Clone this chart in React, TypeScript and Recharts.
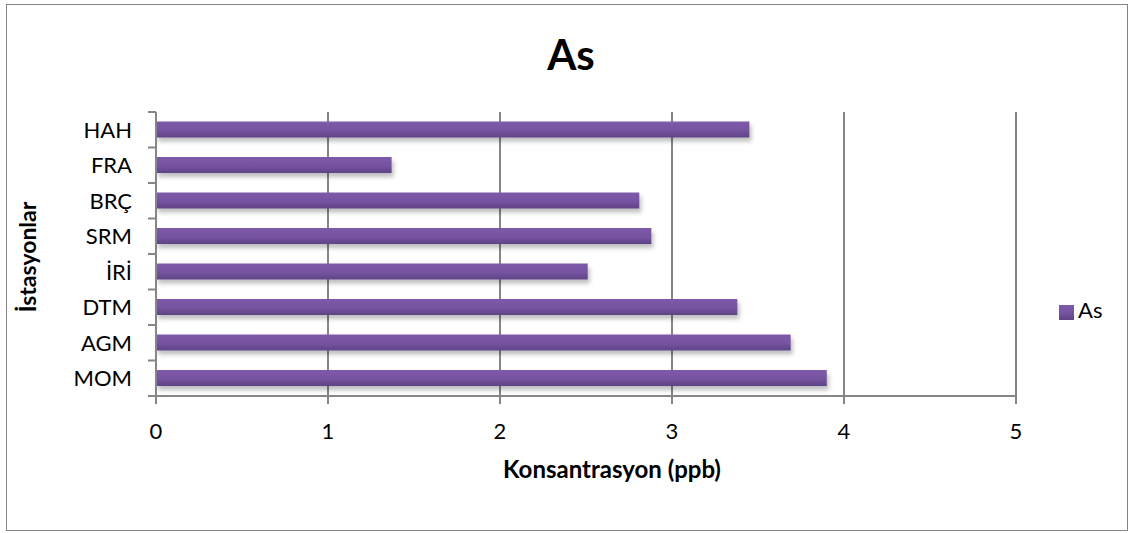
import { Bar, BarChart, CartesianGrid, Legend, XAxis, YAxis } from 'recharts';

const stations = ['HAH', 'FRA', 'BRÇ', 'SRM', 'İRİ', 'DTM', 'AGM', 'MOM'];
const asValues = [3.45, 1.37, 2.81, 2.88, 2.51, 3.38, 3.69, 3.9];
const xTicks = [0, 1, 2, 3, 4, 5];

const data = stations.map((name, i) => ({ name, As: asValues[i] }));

const FONT = 'Lato, "Open Sans", sans-serif';
const AXIS = '#868686';

const YTick = (props: any) => {
  const { x, y, payload, index } = props;
  const band = 284 / stations.length;
  return (
    <g>
      <line x1={x + 0} x2={x + 8} y1={y - band / 2} y2={y - band / 2} stroke={AXIS} strokeWidth={2} />
      {index === stations.length - 1 && (
        <line x1={x} x2={x + 8} y1={y + band / 2} y2={y + band / 2} stroke={AXIS} strokeWidth={2} />
      )}
      <text x={x - 16} y={y} dy={8} textAnchor='end' fontSize={22} fill='#000' fontFamily={FONT}>
        {payload.value}
      </text>
    </g>
  );
};

export default function App() {
  return (
    <div style={{ position: 'absolute', left: 0, top: 0, width: 1131, height: 533, background: '#fff' }}>
      <div
        style={{
          position: 'absolute',
          left: 6,
          top: 4,
          width: 1120,
          height: 525,
          border: '1px solid #868686',
        }}
      />
      <div
        style={{
          position: 'absolute',
          left: 0,
          width: 1142,
          top: 29,
          textAlign: 'center',
          fontFamily: FONT,
          fontWeight: 'bold',
          fontSize: 42,
        }}
      >
        As
      </div>
      <div
        style={{
          position: 'absolute',
          left: 27,
          top: 257,
          transform: 'translate(-50%, -50%) rotate(-90deg)',
          fontFamily: FONT,
          fontWeight: 'bold',
          fontSize: 23,
          whiteSpace: 'nowrap',
        }}
      >
        İstasyonlar
      </div>
      <div
        style={{
          position: 'absolute',
          left: 612,
          top: 468,
          transform: 'translate(-50%, -50%)',
          fontFamily: FONT,
          fontWeight: 'bold',
          fontSize: 24,
          whiteSpace: 'nowrap',
        }}
      >
        Konsantrasyon (ppb)
      </div>
      <div style={{ position: 'absolute', left: 0, top: 0 }}>
        <BarChart
          width={1131}
          height={533}
          data={data}
          layout='vertical'
          barCategoryGap='27%'
          margin={{ top: 112, right: 45, bottom: 107, left: 56 }}
        >
          <defs>
            <linearGradient id='asFill' x1='0' y1='0' x2='0' y2='1'>
              <stop offset='0%' stopColor='#7E5AAA' />
              <stop offset='55%' stopColor='#7653A0' />
              <stop offset='100%' stopColor='#5F4386' />
            </linearGradient>
            <filter id='barShadow' x='-5%' y='-40%' width='110%' height='200%'>
              <feDropShadow dx='2' dy='4' stdDeviation='2' floodColor='#000' floodOpacity='0.25' />
            </filter>
          </defs>
          <CartesianGrid horizontal={false} stroke={AXIS} strokeWidth={2} />
          <XAxis
            type='number'
            domain={[0, 5]}
            ticks={xTicks}
            height={30}
            stroke={AXIS}
            strokeWidth={2}
            tickSize={8}
            tickMargin={19}
            tick={{ fontSize: 22, fill: '#000', fontFamily: FONT }}
          />
          <YAxis
            type='category'
            dataKey='name'
            width={100}
            stroke={AXIS}
            strokeWidth={2}
            tickLine={false}
            tick={<YTick />}
          />
          <Legend
            layout='vertical'
            align='right'
            verticalAlign='middle'
            iconType='square'
            iconSize={15}
            wrapperStyle={{ left: 1059, top: 296, width: 70, fontFamily: FONT, fontSize: 22 }}
            formatter={(v: string) => <span style={{ color: '#000' }}>{v}</span>}
          />
          <Bar
            dataKey='As'
            name='As'
            fill='url(#asFill)'
            legendType='square'
            filter='url(#barShadow)'
            isAnimationActive={false}
          />
        </BarChart>
      </div>
    </div>
  );
}
